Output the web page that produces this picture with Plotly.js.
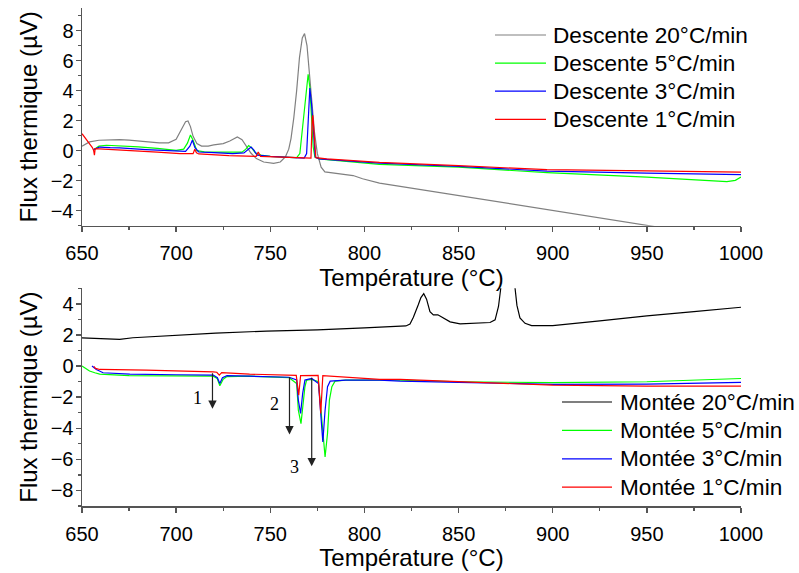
<!DOCTYPE html>
<html><head><meta charset="utf-8">
<script src="https://cdn.plot.ly/plotly-3.0.1.min.js"></script>
<style>html,body{margin:0;padding:0;background:#fff}</style>
</head><body><div id="chart" style="width:799px;height:573px"></div>
<script>
// ---------- Top panel: cooling (Descente) ----------
const desc20Name = 'Descente 20°C/min';
const desc20T = [650, 654, 659, 665, 670, 675, 681, 686, 691, 696, 700, 703, 705, 706.3, 707.6, 709, 711, 713.5, 717, 720, 725, 728.5, 730.5, 732.5, 735, 737.6, 739.7, 742.6, 746.5, 751.8, 755.3, 758, 759.8, 761, 762.5, 764, 765.5, 767, 768.2, 769.5, 770.5, 772, 773.5, 775, 777, 779, 785, 789, 794, 799, 808, 819, 850, 900, 950, 1000];
const desc20V = [0.3, 0.58, 0.69, 0.72, 0.73, 0.70, 0.64, 0.58, 0.51, 0.52, 0.75, 1.46, 1.92, 1.97, 1.6, 0.95, 0.47, 0.3, 0.3, 0.38, 0.47, 0.64, 0.8, 0.91, 0.73, 0.24, -0.16, -0.53, -0.76, -0.85, -0.76, -0.42, 0.1, 0.8, 2.2, 4.0, 6.2, 7.5, 7.8, 7.0, 5.6, 3.2, 1.2, -0.2, -1.1, -1.42, -1.52, -1.58, -1.66, -1.87, -2.16, -2.38, -2.99, -3.98, -4.98, -5.97];

const desc5Name = 'Descente 5°C/min';
const desc5T = [656, 659, 663, 670, 680, 690, 700, 704, 706, 707.6, 709, 711, 715, 720, 730, 735, 737, 738.5, 740, 742, 745, 750, 760, 764, 765.7, 767.5, 769.3, 770.1, 771, 771.9, 772.8, 773.7, 776, 780, 808, 850, 897, 950, 975, 992.5, 997, 1000];
const desc5V = [0.05, 0.3, 0.36, 0.33, 0.25, 0.15, 0.02, 0.1, 0.5, 1.04, 0.7, 0.0, -0.08, -0.1, -0.1, -0.1, 0.1, 0.33, 0.2, -0.15, -0.3, -0.38, -0.45, -0.47, -0.2, 2.0, 4.57, 5.09, 4.24, 2.0, 0.24, -0.43, -0.55, -0.6, -0.91, -1.1, -1.47, -1.77, -1.93, -2.07, -1.98, -1.76];

const desc3Name = 'Descente 3°C/min';
const desc3T = [656, 659.4, 665, 670, 684, 695, 702, 705, 707.3, 708.6, 710, 712, 720, 730, 736, 738.3, 739.8, 741.2, 743, 750, 760, 768, 769.3, 770.3, 771, 771.9, 772.8, 773.9, 776, 808, 850, 897, 950, 1000];
const desc3V = [0.07, 0.24, 0.2, 0.18, 0.07, 0.0, -0.05, -0.05, 0.3, 0.69, 0.2, -0.09, -0.13, -0.2, -0.15, 0.05, 0.24, 0.05, -0.3, -0.38, -0.45, -0.5, -0.2, 2.0, 4.17, 3.13, 1.35, -0.43, -0.55, -0.83, -1.05, -1.36, -1.5, -1.6];

const desc1Name = 'Descente 1°C/min';
const desc1T = [650, 652, 654, 655.5, 656.2, 656.6, 657, 670, 690, 702, 709, 709.9, 710.8, 712, 728, 742.5, 743.6, 744.8, 750, 760, 770, 771.6, 772.3, 772.6, 773.4, 774.2, 780, 808, 850, 897, 950, 1000];
const desc1V = [1.13, 0.8, 0.47, 0.2, 0.0, -0.3, 0.13, 0.05, -0.1, -0.2, -0.2, 0.09, -0.15, -0.22, -0.33, -0.38, -0.09, -0.38, -0.4, -0.45, -0.5, -0.5, 2.24, 2.35, 0.91, -0.47, -0.55, -0.78, -1.0, -1.27, -1.35, -1.43];

// ---------- Bottom panel: heating (Montée) ----------
const mont20Name = 'Montée 20°C/min';
const mont20T = [650, 660, 670, 677, 695, 721, 748, 775, 800, 810, 818, 822, 824.2, 826, 828.6, 830, 831.5, 833, 834.8, 836.6, 839, 842, 845.5, 850.8, 860, 866.7, 869.4, 871.2, 872.4, 873.5, 876, 879, 880, 881, 882.6, 885.3, 888.8, 900, 925, 950, 975, 1000];
const mont20V = [1.81, 1.78, 1.72, 1.82, 1.94, 2.12, 2.25, 2.32, 2.45, 2.52, 2.54, 2.58, 2.7, 3.14, 3.94, 4.4, 4.65, 4.3, 3.5, 3.29, 3.3, 3.07, 2.84, 2.71, 2.75, 2.8, 2.97, 3.83, 5.0, 6.5, 7.5, 6.5, 5.0, 3.9, 3.1, 2.75, 2.6, 2.6, 2.9, 3.23, 3.5, 3.78];

const mont5Name = 'Montée 5°C/min';
const mont5T = [650, 654, 656.8, 659.4, 675, 700, 719.7, 721.8, 723.2, 725, 727, 739, 760, 764, 764.9, 766.3, 767.3, 768.4, 769.3, 772, 775.6, 777.4, 779.1, 780.4, 781.4, 782.7, 784.4, 790, 808, 819, 850, 900, 950, 1000];
const mont5V = [0.0, -0.32, -0.43, -0.52, -0.62, -0.64, -0.65, -0.8, -1.27, -0.85, -0.68, -0.65, -0.75, -1.12, -2.84, -3.7, -2.6, -1.33, -0.9, -0.86, -1.01, -3.27, -5.85, -4.34, -2.19, -1.33, -0.97, -0.9, -0.9, -0.9, -1.01, -1.07, -1.01, -0.8];

const mont3Name = 'Montée 3°C/min';
const mont3T = [655.3, 657.6, 661.2, 675.4, 700, 719.7, 721.9, 723.2, 724.6, 727, 739, 760, 764, 764.9, 766.1, 767.2, 768.4, 772, 775.6, 776.8, 777.9, 779.1, 780.4, 781.8, 790, 808, 819, 850, 900, 950, 1000];
const mont3V = [0.0, -0.22, -0.43, -0.52, -0.56, -0.58, -0.75, -1.12, -0.75, -0.62, -0.65, -0.72, -0.9, -2.19, -3.05, -1.76, -0.9, -0.8, -1.12, -3.05, -4.88, -2.84, -1.33, -0.97, -0.9, -0.9, -0.97, -1.05, -1.18, -1.16, -1.05];

const mont1Name = 'Montée 1°C/min';
const mont1T = [656.3, 656.7, 657.2, 659.4, 684.2, 719.7, 721.6, 722.9, 724.2, 739, 763.8, 765.1, 766.1, 775.4, 776.8, 777.9, 790, 808, 819, 850, 900, 950, 1000];
const mont1V = [-0.02, -0.09, -0.15, -0.22, -0.26, -0.37, -0.4, -0.58, -0.42, -0.52, -0.6, -1.87, -0.62, -0.6, -3.05, -0.62, -0.7, -0.86, -0.86, -1.01, -1.23, -1.29, -1.29];

// ---------- Annotations (arrows & labels) ----------
const arrowX    = [719.3, 760.2, 772.0];
const arrowTop  = [-0.37, -0.6, -0.65];
const arrowTip  = [-2.75, -4.4, -6.45];
const labelText = ['1', '2', '3'];
const labelX    = [711.3, 752.0, 763.0];
const labelY    = [-2.05, -2.41, -6.5];

const xTitle = 'Température (°C)';
const yTitle = 'Flux thermique (µV)';

const colors = {g: '#808080', k: '#000000', gr: '#00ff00', b: '#0000ff', r: '#ff0000'};

// series table (built from the named arrays above)
const topSeries = [
  [desc20T, desc20V, desc20Name, colors.g],
  [desc5T, desc5V, desc5Name, colors.gr],
  [desc3T, desc3V, desc3Name, colors.b],
  [desc1T, desc1V, desc1Name, colors.r]
];
const botSeries = [
  [mont20T, mont20V, mont20Name, colors.k],
  [mont5T, mont5V, mont5Name, colors.gr],
  [mont3T, mont3V, mont3Name, colors.b],
  [mont1T, mont1V, mont1Name, colors.r]
];

function tr(s, xa, ya) {
  return {type: 'scatter', mode: 'lines', x: s[0], y: s[1], name: s[2], xaxis: xa, yaxis: ya,
    line: {color: s[3], width: 1.2}, hoverinfo: 'skip', showlegend: false};
}
const data = topSeries.map(s => tr(s, 'x', 'y')).concat(botSeries.map(s => tr(s, 'x2', 'y2')));

// ---------- layout ----------
const W = 799, H = 573;
const M = {l: 82, r: 58, t: 8, b: 67};
const PW = W - M.l - M.r, PH = H - M.t - M.b;
const px2x = px => (px - M.l) / PW;
const py2y = py => (H - M.b - py) / PH;

const tickFont = {family: 'Liberation Sans, Arial, sans-serif', size: 20, color: '#000'};
const titleFont = {family: 'Liberation Sans, Arial, sans-serif', size: 24, color: '#000'};
function xax(anchor) {
  return {anchor: anchor, domain: [0, 1], range: [650, 1000], dtick: 50, tick0: 650,
    showgrid: false, zeroline: false, showline: true, linecolor: '#555', linewidth: 1.5,
    ticks: 'outside', ticklen: 5, tickwidth: 1.5, tickcolor: '#555', tickfont: tickFont,
    ticklabelstandoff: 4,
    minor: {dtick: 25, tick0: 650, ticklen: 3, tickwidth: 1.2, tickcolor: '#555', ticks: 'outside'},
    title: {text: xTitle, font: titleFont, standoff: 1}};
}
function yax(anchor, domain, range) {
  return {anchor: anchor, domain: domain, range: range, dtick: 2, tick0: 0,
    showgrid: false, zeroline: false, showline: true, linecolor: '#555', linewidth: 1.5,
    ticks: 'outside', ticklen: 5, tickwidth: 1.5, tickcolor: '#555', tickfont: tickFont,
    ticklabelstandoff: -2,
    minor: {dtick: 1, tick0: 0, ticklen: 3, tickwidth: 1.2, tickcolor: '#555', ticks: 'outside'},
    title: {text: yTitle, font: titleFont, standoff: 6}};
}

const annotations = [];
const shapes = [];
for (let i = 0; i < arrowX.length; i++) {
  annotations.push({xref: 'x2', yref: 'y2', axref: 'x2', ayref: 'y2', x: arrowX[i], y: arrowTip[i],
    ax: arrowX[i], ay: arrowTop[i], text: '', showarrow: true, arrowhead: 2, arrowsize: 1.4,
    arrowwidth: 1.2, arrowcolor: '#222'});
  annotations.push({xref: 'x2', yref: 'y2', x: labelX[i], y: labelY[i], text: labelText[i], showarrow: false,
    font: {family: 'Liberation Serif, Times New Roman, serif', size: 18, color: '#000'}});
}

// hand-placed legends (line sample + label)
const legFont = {family: 'Liberation Sans, Arial, sans-serif', size: 22.6, color: '#000'};
function addLegend(series, lineX0, lineX1, textX, rowY0, rowStep) {
  series.forEach((s, i) => {
    const py = rowY0 + i * rowStep;
    shapes.push({type: 'line', xref: 'paper', yref: 'paper', x0: px2x(lineX0), x1: px2x(lineX1),
      y0: py2y(py), y1: py2y(py), line: {color: s[3], width: 1.2}});
    annotations.push({xref: 'paper', yref: 'paper', x: px2x(textX), y: py2y(py), xanchor: 'left', yanchor: 'middle',
      text: s[2], showarrow: false, font: legFont, borderpad: 0});
  });
}
addLegend(topSeries, 495, 546, 552, 35, 28.1);
addLegend(botSeries, 562, 612, 619, 402, 28.4);

const layout = {
  width: W, height: H,
  margin: {l: M.l, r: M.r, t: M.t, b: M.b, autoexpand: false},
  paper_bgcolor: '#fff', plot_bgcolor: 'rgba(0,0,0,0)',
  showlegend: false,
  xaxis: xax('y'),
  yaxis: yax('x', [py2y(225.7), 1], [-5, 9.5]),
  xaxis2: xax('y2'),
  yaxis2: yax('x2', [0, py2y(288.3)], [-9, 5]),
  annotations: annotations,
  shapes: shapes
};

Plotly.newPlot('chart', data, layout, {staticPlot: true, displayModeBar: false});
</script></body></html>
